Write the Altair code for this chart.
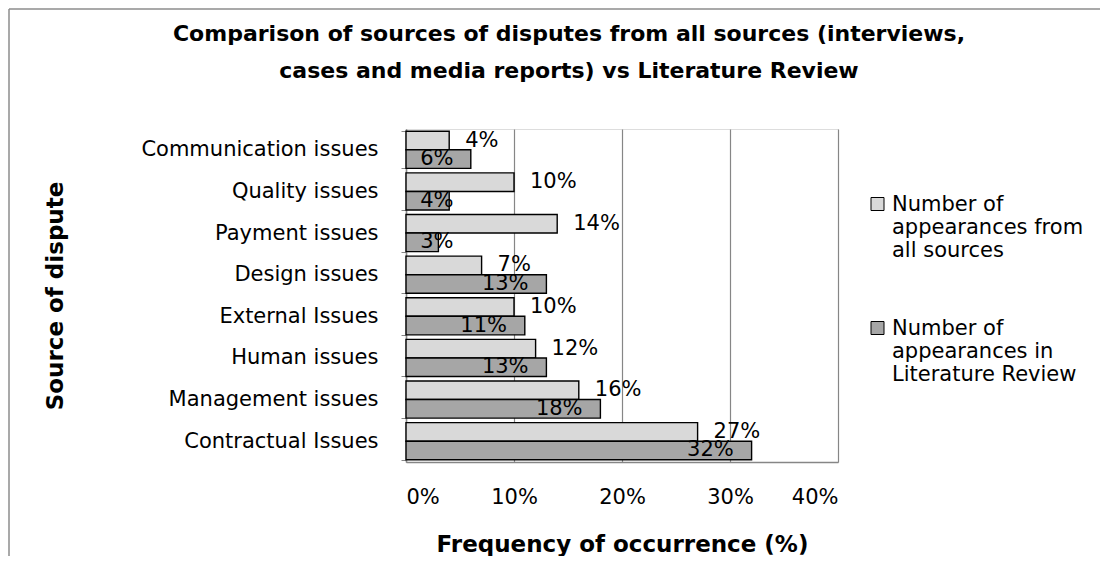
import altair as alt
import pandas as pd

categories = ["Communication issues", "Quality issues ", "Payment issues", "Design issues",
              "External Issues", "Human issues ", "Management issues", "Contractual Issues"]
series = ["Number of appearances from all sources", "Number of appearances in Literature Review"]
all_sources = [4, 10, 14, 7, 10, 12, 16, 27]
literature = [6, 4, 3, 13, 11, 13, 18, 32]
colors = ["#d9d9d9", "#a6a6a6"]
x_ticks = [0, 10, 20, 30, 40]
title_lines = ["Comparison of sources of disputes from all sources (interviews,",
               "cases and media reports) vs Literature Review"]

rows = []
for c, a, l in zip(categories, all_sources, literature):
    rows.append({"cat": c, "series": series[0], "v": a})
    rows.append({"cat": c, "series": series[1], "v": l})
df = pd.DataFrame(rows)

FONT = "DejaVu Sans"
FS = 21

y_enc = alt.Y("cat:N", sort=categories, title="Source of dispute",
              scale=alt.Scale(paddingInner=0.11, paddingOuter=0.055),
              axis=alt.Axis(tickBand="extent", ticks=True, tickSize=5, tickColor="#868686",
                            domainColor="#868686", domainWidth=1.5,
                            labelFontSize=FS, labelPadding=23, labelFont=FONT,
                            labelColor="black", labelLimit=400,
                            titleFontSize=23, titleFont=FONT, titleFontWeight="bold",
                            titleAngle=270, titleX=-351, titleY=166.5, titleAlign="center",
                            titleBaseline="middle", titleColor="black"))
yoff = alt.YOffset("series:N", sort=series, scale=alt.Scale(paddingInner=0, paddingOuter=0))
x_enc = alt.X("v:Q", scale=alt.Scale(domain=[0, 40], nice=False),
              axis=alt.Axis(values=x_ticks, labelExpr="datum.value + '%'", grid=True,
                            gridColor="#868686", gridWidth=1.2, ticks=False, tickSize=0,
                            domainColor="#868686", domainWidth=1.5,
                            labelFontSize=FS, labelFont=FONT, labelColor="black", labelPadding=24,
                            title="Frequency of occurrence (%)", titleFontSize=23, titleFont=FONT,
                            titleFontWeight="bold", titleColor="black",
                            titleY=89, titleBaseline="alphabetic"))

label_expr = ("datum.value == '" + series[0] + "' ? ['Number of', 'appearances from', 'all sources']"
              " : ['Number of', 'appearances in', 'Literature Review']")

base = alt.Chart(df)

bars = base.mark_bar(stroke="black", strokeWidth=1.4).encode(
    x=x_enc,
    y=y_enc,
    yOffset=yoff,
    color=alt.Color("series:N", sort=series,
                    scale=alt.Scale(domain=series, range=colors),
                    legend=alt.Legend(orient="none", legendX=461, legendY=71, title=None,
                                      symbolType="M-1,-2H1V0H-1Z", symbolSize=169,
                                      symbolStrokeColor="black", symbolStrokeWidth=1,
                                      labelFontSize=FS, labelFont=FONT, labelColor="black",
                                      labelBaseline="alphabetic",
                                      labelOffset=4, labelLimit=0, labelExpr=label_expr,
                                      rowPadding=56, padding=0)),
)

light_lbl = base.transform_filter(alt.datum.series == series[0]).transform_calculate(
    lbl="datum.v + '%'"
).mark_text(align="left", baseline="middle", dx=16, font=FONT, fontSize=FS, color="black").encode(
    x=alt.X("v:Q"), y=alt.Y("cat:N", sort=categories), yOffset=yoff, text="lbl:N"
)

dark_lbl = base.transform_filter(alt.datum.series == series[1]).transform_calculate(
    lbl="datum.v + '%'", xr="max(datum.v - 1.65, 4.4)"
).mark_text(align="right", baseline="middle", font=FONT, fontSize=FS, color="black").encode(
    x=alt.X("xr:Q"), y=alt.Y("cat:N", sort=categories), yOffset=yoff, text="lbl:N"
)

frame = alt.Chart(alt.Data(values=[{"k": 1}]))
left_border = frame.mark_rule(color="#8c8c8c", strokeWidth=1.5).encode(
    x=alt.value(-397), y=alt.value(-120), y2=alt.value(440))
top_border = frame.mark_rule(color="#8c8c8c", strokeWidth=1.5).encode(
    x=alt.value(-397), x2=alt.value(700), y=alt.value(-120))

chart = alt.layer(bars, light_lbl, dark_lbl, left_border, top_border).properties(
    width=432, height=333,
    autosize=alt.AutoSizeParams(type="none"),
    padding={"left": 398, "top": 121, "right": 262, "bottom": 94},
    title=alt.TitleParams(text=title_lines, fontSize=22, font=FONT, fontWeight="bold",
                          anchor="middle", dx=-53, offset=-75, lineHeight=37, color="black"),
).configure_view(stroke="#222222", strokeWidth=1.2).configure(background="white")

chart.save("out.html", embed_options={"renderer": "svg", "actions": False})
